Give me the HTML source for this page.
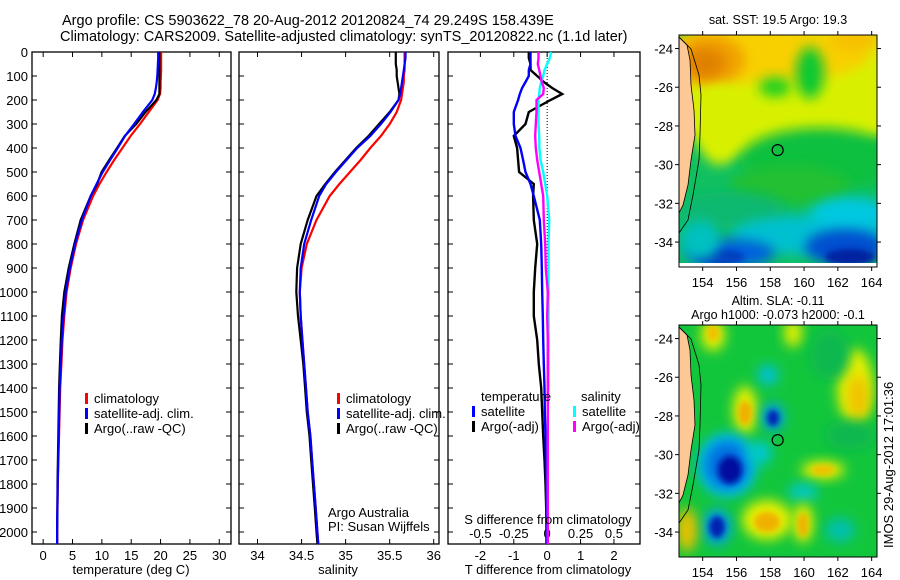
<!DOCTYPE html>
<html><head><meta charset="utf-8"><style>
body{margin:0;background:#fff;}
svg{display:block;font-family:"Liberation Sans",sans-serif;}
</style></head><body>
<svg id="chart" width="900" height="580" viewBox="0 0 900 580" xmlns="http://www.w3.org/2000/svg">
<defs>
<filter id="bl" x="-50%" y="-50%" width="200%" height="200%"><feGaussianBlur stdDeviation="6"/></filter>
<filter id="bl2" x="-50%" y="-50%" width="200%" height="200%"><feGaussianBlur stdDeviation="3"/></filter>
<clipPath id="c1"><rect x="679" y="35" width="198" height="232"/></clipPath>
<clipPath id="c2"><rect x="679" y="325" width="198" height="232"/></clipPath>
</defs>
<text x="62" y="25" font-size="14.5">Argo profile: CS 5903622_78 20-Aug-2012 20120824_74 29.249S 158.439E</text>
<text x="60" y="41" font-size="14.5">Climatology: CARS2009. Satellite-adjusted climatology: synTS_20120822.nc (1.1d later)</text>
<g id="panels"></g>
<g id="maps"></g>
<text transform="translate(893,548) rotate(-90)" font-size="13">IMOS 29-Aug-2012 17:01:36</text>
</svg>
<script>
const depths=[0,25,50,75,100,125,150,175,200,250,300,350,400,450,500,550,600,700,800,900,1000,1100,1200,1300,1400,1500,1600,1700,1800,1900,2000,2050];
const tempClim=[20.1,20.1,20.1,20.1,20.05,20.0,20.0,19.9,19.5,18.0,16.5,14.9,13.5,12.1,10.8,9.6,8.5,6.8,5.6,4.7,4.0,3.6,3.3,3.1,2.9,2.8,2.7,2.6,2.5,2.45,2.4,2.4];
const tempSat=[19.6,19.6,19.55,19.5,19.45,19.35,19.2,19.0,18.6,17.0,15.5,13.95,12.7,11.4,10.15,9.1,8.1,6.6,5.45,4.55,3.85,3.47,3.18,3.0,2.82,2.73,2.65,2.56,2.47,2.43,2.38,2.38];
const tempArgo=[19.8,19.8,19.8,19.8,19.8,19.8,19.8,19.8,19.3,17.45,15.85,13.9,12.6,11.25,9.95,9.2,8.1,6.4,5.3,4.35,3.6,3.2,3.0,2.85,2.72,2.65,2.58,2.52,2.45,2.42,2.38,2.38];
const salClim=[35.67,35.67,35.67,35.67,35.66,35.66,35.65,35.64,35.63,35.58,35.5,35.4,35.28,35.17,35.05,34.93,34.82,34.67,34.56,34.5,34.48,34.49,34.51,34.53,34.55,34.57,34.6,34.62,34.64,34.66,34.68,34.69];
const salSat=[35.68,35.68,35.67,35.66,35.65,35.64,35.63,35.62,35.6,35.51,35.4,35.28,35.13,35.01,34.89,34.78,34.7,34.61,34.53,34.49,34.48,34.49,34.51,34.53,34.55,34.57,34.6,34.62,34.64,34.66,34.68,34.69];
const salArgo=[35.57,35.57,35.57,35.58,35.58,35.59,35.6,35.61,35.6,35.5,35.38,35.26,35.12,35.0,34.88,34.77,34.67,34.57,34.49,34.45,34.44,34.46,34.49,34.52,34.54,34.56,34.59,34.61,34.63,34.65,34.67,34.68];
const tDiffSat=[-0.5,-0.5,-0.5,-0.55,-0.55,-0.65,-0.75,-0.82,-0.87,-1.0,-1.0,-0.95,-0.8,-0.72,-0.65,-0.5,-0.4,-0.22,-0.18,-0.16,-0.15,-0.13,-0.12,-0.1,-0.08,-0.07,-0.05,-0.04,-0.03,-0.02,-0.02,-0.02];
const tDiffArgo=[-0.55,-0.55,-0.5,-0.5,-0.3,-0.1,0.15,0.45,0.1,-0.55,-0.65,-1.0,-0.9,-0.87,-0.84,-0.4,-0.42,-0.4,-0.3,-0.36,-0.4,-0.4,-0.3,-0.25,-0.18,-0.15,-0.12,-0.08,-0.05,-0.03,-0.02,-0.02];
const sDiffSat=[0.03,0.02,0.0,-0.02,-0.03,-0.045,-0.055,-0.06,-0.065,-0.065,-0.065,-0.06,-0.058,-0.05,-0.03,-0.015,0.0,0.015,0.01,0.01,0.01,0.01,0.01,0.01,0.01,0.005,0.005,0.005,0.005,0.005,0.005,0.005];
const sDiffArgo=[-0.065,-0.065,-0.07,-0.06,-0.05,-0.04,-0.025,-0.03,-0.08,-0.08,-0.085,-0.09,-0.085,-0.075,-0.06,-0.045,-0.03,-0.025,-0.015,-0.01,0.005,0.0,0.005,0.005,0.005,0.005,0.005,0.005,0.005,0.005,0.005,0.005];
const depthTicks=[0,100,200,300,400,500,600,700,800,900,1000,1100,1200,1300,1400,1500,1600,1700,1800,1900,2000];
const tempTicks=[0,5,10,15,20,25,30];
const salTicks=[34,34.5,35,35.5,36];
const tDiffTicks=[-2,-1,0,1,2];
const sDiffTicks=[-0.5,-0.25,0,0.25,0.5];
const lonTicks=[154,156,158,160,162,164];
const latTicks=[-24,-26,-28,-30,-32,-34];

const NS='http://www.w3.org/2000/svg';
const top0=52, bot=544;
const yD=d=>top0+d*0.24;
function mk(tag,at,parent){const e=document.createElementNS(NS,tag);for(const k in at)e.setAttribute(k,at[k]);parent.appendChild(e);return e;}
const P=document.getElementById('panels');
const panels=[
 {name:'temperature',x0:32,x1:231,lo:-1.9,hi:32.0},
 {name:'salinity',x0:239,x1:439,lo:33.79,hi:36.06},
 {name:'difference',x0:448,x1:640,lo:-2.97,hi:2.78}
];
function sx(p,v){return p.x0+(v-p.lo)/(p.hi-p.lo)*(p.x1-p.x0);}
function line(p,vals,color,name,w){
  const pts=vals.map((v,i)=>sx(p,v).toFixed(1)+','+yD(depths[i]).toFixed(1)).join(' ');
  const e=mk('polyline',{points:pts,fill:'none',stroke:color,'stroke-width':w||2.2},P);
  
  
}
panels.forEach((p,pi)=>{
  const f=mk('rect',{x:p.x0,y:top0,width:p.x1-p.x0,height:bot-top0,fill:'none',stroke:'#000','stroke-width':1.3},P);
  
  
  depthTicks.forEach(d=>{
    mk('line',{x1:p.x0,x2:p.x0+5,y1:yD(d),y2:yD(d),stroke:'#000'},P);
    mk('line',{x1:p.x1-5,x2:p.x1,y1:yD(d),y2:yD(d),stroke:'#000'},P);
    if(pi===0){const t=mk('text',{x:28,y:yD(d)+5,'font-size':13,'text-anchor':'end'},P);t.textContent=d;
      
      }
  });
});
const p1=panels[0],p2=panels[1],p3=panels[2];
tempTicks.forEach(v=>{const x=sx(p1,v);mk('line',{x1:x,x2:x,y1:top0,y2:top0+5,stroke:'#000'},P);mk('line',{x1:x,x2:x,y1:bot-5,y2:bot,stroke:'#000'},P);
 const t=mk('text',{x:x,y:bot+16,'font-size':13,'text-anchor':'middle'},P);t.textContent=v;
 
 });
salTicks.forEach(v=>{const x=sx(p2,v);mk('line',{x1:x,x2:x,y1:top0,y2:top0+5,stroke:'#000'},P);mk('line',{x1:x,x2:x,y1:bot-5,y2:bot,stroke:'#000'},P);
 const t=mk('text',{x:x,y:bot+16,'font-size':13,'text-anchor':'middle'},P);t.textContent=v;
 
 });
tDiffTicks.forEach(v=>{const x=sx(p3,v);mk('line',{x1:x,x2:x,y1:top0,y2:top0+5,stroke:'#000'},P);mk('line',{x1:x,x2:x,y1:bot-5,y2:bot,stroke:'#000'},P);
 const t=mk('text',{x:x,y:bot+16,'font-size':13,'text-anchor':'middle'},P);t.textContent=v;
 
 });
sDiffTicks.forEach(v=>{const x=sx(p3,v*4);
 const t=mk('text',{x:x,y:bot-6,'font-size':13,'text-anchor':'middle'},P);t.textContent=v;
 
 });
const zx=sx(p3,0);
const z=mk('line',{x1:zx,x2:zx,y1:top0,y2:bot,stroke:'#000','stroke-dasharray':'1,2'},P);



line(p1,tempClim,'#f00','temp-climatology-line',2.2);
line(p1,tempArgo,'#000','temp-argo-line',2.2);
line(p1,tempSat,'#00f','temp-satellite-line',2.2);
line(p2,salClim,'#f00','sal-climatology-line',2.2);
line(p2,salArgo,'#000','sal-argo-line',2.2);
line(p2,salSat,'#00f','sal-satellite-line',2.2);
line(p3,tDiffArgo,'#000','t-diff-argo-line',2.4);
line(p3,tDiffSat,'#00f','t-diff-satellite-line',2.4);
line(p3,sDiffSat.map(v=>v*4),'#0ff','s-diff-satellite-line',2.4);
line(p3,sDiffArgo.map(v=>v*4),'#f0f','s-diff-argo-line',2.4);

function txt(x,y,s,name,size,anchor){const t=mk('text',{x:x,y:y,'font-size':size||13,'text-anchor':anchor||'start'},P);t.textContent=s;
 
 return t;}
function leg(x,y,color,label,name){const r=mk('rect',{x:x,y:y-10,width:3,height:11,fill:color},P);
 
 
 txt(x+9,y,label,name+'-label');}
leg(85,403,'#f00','climatology','legend-climatology');
leg(85,418,'#00f','satellite-adj. clim.','legend-satellite');
leg(85,433,'#000','Argo(..raw -QC)','legend-argo');
leg(337,403,'#f00','climatology','legend2-climatology');
leg(337,418,'#00f','satellite-adj. clim.','legend2-satellite');
leg(337,433,'#000','Argo(..raw -QC)','legend2-argo');
txt(481,401,'temperature','legend-temperature-title');
leg(472,416,'#00f','satellite','legend-t-satellite');
leg(472,431,'#000','Argo(-adj)','legend-t-argo');
txt(581,401,'salinity','legend-salinity-title');
leg(573,416,'#0ff','satellite','legend-s-satellite');
leg(573,431,'#f0f','Argo(-adj)','legend-s-argo');
txt(328,517,'Argo Australia','credit-line-1');
txt(328,531,'PI: Susan Wijffels','credit-line-2');
txt(548,524,'S difference from climatology','s-diff-axis-title',13,'middle');
txt(131,574,'temperature (deg C)','temperature-axis-title',13,'middle');
txt(338,574,'salinity','salinity-axis-title',13,'middle');
txt(548,574,'T difference from climatology','t-diff-axis-title',13,'middle');

// maps
const M=document.getElementById('maps');
const mx0=679,mx1=877;
const lonX=l=>mx0+(l-152.6)*16.9;
function mapFrame(y0,name,clip,bg,blobs,title1,title2,bottomStrip){
  const g=mk('g',{'clip-path':'url(#'+clip+')'},M);
  
  
  mk('rect',{x:mx0,y:y0,width:198,height:232,fill:bg},g);
  blobs.forEach(b=>mk('ellipse',{cx:b[0],cy:y0+b[1],rx:b[2],ry:b[3],fill:b[4],filter:'url(#'+(b[5]||'bl')+')'},g));
  if(bottomStrip) mk('rect',{x:mx0,y:y0+228,width:198,height:4,fill:'#fff'},g);
  const land=mk('path',{d:`M${mx0} ${y0+2} L${mx0+8} ${y0+10} L${mx0+11} ${y0+25} L${mx0+12} ${y0+50} L${mx0+15} ${y0+75} L${mx0+16} ${y0+100} L${mx0+12} ${y0+125} L${mx0+9} ${y0+150} L${mx0+4} ${y0+170} L${mx0} ${y0+178} Z`,fill:'#fdc896',stroke:'#000','stroke-width':0.8},g);
  
  
  mk('path',{d:`M${mx0} ${y0+2} L${mx0+12} ${y0+14} L${mx0+20} ${y0+40} L${mx0+22} ${y0+60} L${mx0+21} ${y0+100} L${mx0+20} ${y0+125} L${mx0+14} ${y0+160} L${mx0+9} ${y0+185} L${mx0} ${y0+198}`,fill:'none',stroke:'#000','stroke-width':0.8},g);
  const c=mk('circle',{cx:lonX(158.439),cy:y0+(29.249-23.3)*19.35,r:5.5,fill:'none',stroke:'#000','stroke-width':1.2},M);
  
  
  const f=mk('rect',{x:mx0,y:y0,width:198,height:232,fill:'none',stroke:'#000','stroke-width':1},M);
  
  
  lonTicks.forEach(l=>{const x=lonX(l);mk('line',{x1:x,x2:x,y1:y0,y2:y0-4,stroke:'#000'},M);mk('line',{x1:x,x2:x,y1:y0+232,y2:y0+236,stroke:'#000'},M);
    const t=mk('text',{x:x,y:y0+252,'font-size':13,'text-anchor':'middle'},M);t.textContent=l;
    
    });
  latTicks.forEach(l=>{const y=y0+(-23.3-l)*19.35;mk('line',{x1:mx0,x2:mx0-4,y1:y,y2:y,stroke:'#000'},M);mk('line',{x1:mx1,x2:mx1+4,y1:y,y2:y,stroke:'#000'},M);
    const t=mk('text',{x:mx0-6,y:y+5,'font-size':13,'text-anchor':'end'},M);t.textContent=l;
    
    });
  let t=mk('text',{x:778,y:y0-(title2?20:11),'font-size':12.5,'text-anchor':'middle'},M);t.textContent=title1;
  
  
  if(title2){t=mk('text',{x:778,y:y0-6,'font-size':12.5,'text-anchor':'middle'},M);t.textContent=title2;
    
    }
}
mapFrame(35,'sst-map','c1','#10c060',[
 [790,50,130,75,'#d8f000'],[760,20,110,28,'#f8d000'],[710,25,35,25,'#f0a000'],[705,28,20,15,'#e08000'],
 [855,5,25,12,'#f8c000'],
 [810,38,14,26,'#10c830'],[775,52,16,10,'#20d020'],[720,90,25,40,'#d8f000'],
 [820,125,80,32,'#10c040'],[790,150,60,20,'#20c030'],
 [730,175,55,18,'#10b870'],[810,200,80,20,'#00c0d0'],[850,180,40,18,'#00c8e0'],
 [730,218,45,14,'#0060e0'],[720,222,25,8,'#0040c0','bl2'],[845,212,40,18,'#0050d0'],[850,222,25,8,'#0020a0','bl2'],
 [700,205,20,20,'#00c0c0']
],'sat. SST: 19.5 Argo: 19.3',null,true);
mapFrame(325,'sla-map','c2','#12c63c',[
 [713,10,12,16,'#e8f000'],[713,8,6,8,'#f0c000','bl2'],[793,8,9,14,'#e8f000'],
 [855,62,18,38,'#e8f000'],[858,72,10,22,'#f0c000'],
 [745,85,12,24,'#e8f000'],[745,88,7,12,'#f0b000','bl2'],
 [768,50,10,10,'#00c0e0'],
 [773,92,11,14,'#00a0f0'],[773,93,6,8,'#0020b0','bl2'],
 [727,140,30,32,'#00c0e8'],[727,140,22,24,'#0070e0'],[730,145,12,14,'#0010a0','bl2'],
 [760,128,12,12,'#00c8d0'],
 [823,145,22,9,'#e8f000'],[823,145,12,5,'#f0c000','bl2'],
 [803,167,15,8,'#00c8d0'],
 [767,195,25,20,'#e8f000'],[767,197,13,10,'#f0b000','bl2'],
 [803,198,10,20,'#e8f000'],[803,200,5,12,'#f0b000','bl2'],
 [717,202,14,18,'#00a0f0'],[717,202,8,11,'#0020b0','bl2'],
 [687,205,10,22,'#f0c000'],
 [840,205,15,12,'#00c0b0'],[850,110,25,15,'#10b850'],[830,30,20,25,'#10b850']
],'Altim. SLA: -0.11','Argo h1000: -0.073 h2000: -0.1',false);
</script>
</body></html>
